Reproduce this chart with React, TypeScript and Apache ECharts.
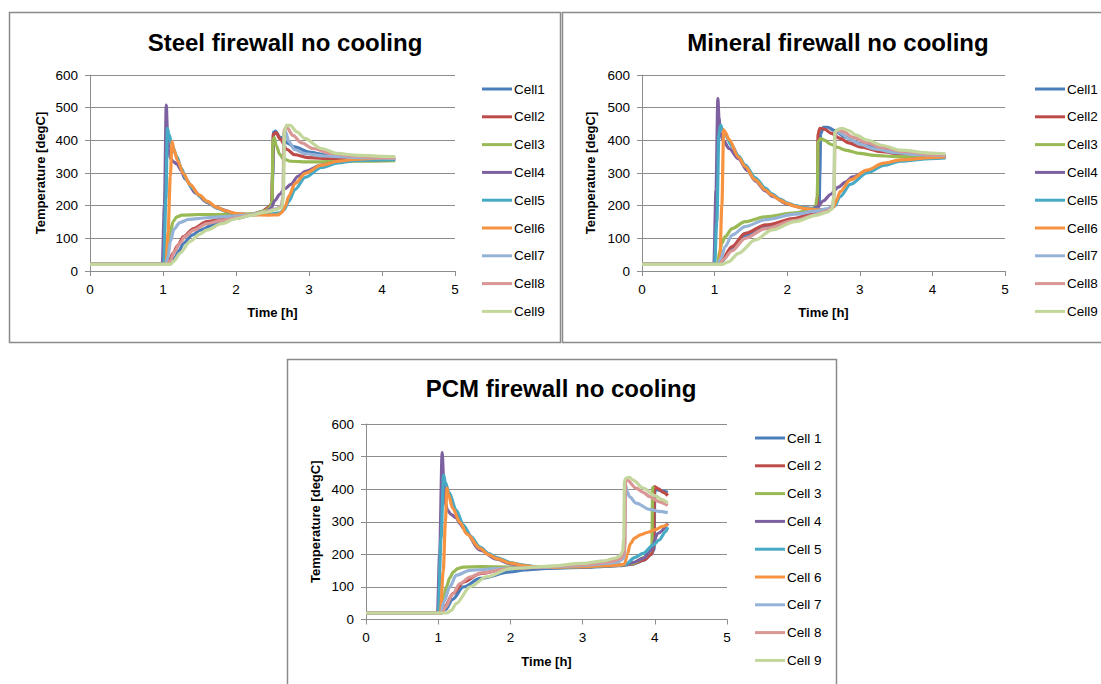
import React, { useEffect, useRef } from "react";
import * as echarts from "echarts";

const FONT = '"Liberation Sans", Arial, sans-serif';
const AXIS_COLOR = "#8c8c8c";

const titles = ["Steel firewall no cooling", "Mineral firewall no cooling", "PCM firewall no cooling"];
const cellNames = ["Cell1", "Cell2", "Cell3", "Cell4", "Cell5", "Cell6", "Cell7", "Cell8", "Cell9"];
const cellNamesSpaced = ["Cell 1", "Cell 2", "Cell 3", "Cell 4", "Cell 5", "Cell 6", "Cell 7", "Cell 8", "Cell 9"];
const colors = ["#4A7EBB", "#BE4B48", "#98B954", "#7D60A0", "#46AAC5", "#F69240", "#95B3D7", "#D99694", "#C3D69B"];
const timeTicks = [0, 1, 2, 3, 4, 5];
const tempTicks = [0, 100, 200, 300, 400, 500, 600];

// ---------- Steel firewall ----------
const steel1 = [[0,20],[1.03,20],[1.1,24],[1.16,40],[1.22,62],[1.28,85],[1.4,110],[1.51,125],[1.7,143],[2.0,161],[2.2,170],[2.35,180],[2.45,193],[2.49,205],[2.505,300],[2.515,425],[2.54,428],[2.6,410],[2.7,392],[2.8,380],[3.0,364],[3.3,352],[3.6,346],[4.0,342],[4.18,341]];
const steel2 = [[0,20],[1.03,20],[1.08,30],[1.14,55],[1.2,78],[1.28,105],[1.42,130],[1.6,151],[1.8,158],[2.0,165],[2.2,172],[2.35,182],[2.45,195],[2.49,207],[2.5,300],[2.51,418],[2.55,424],[2.6,405],[2.7,372],[2.8,356],[3.0,347],[3.4,342],[4.18,340]];
const steel3 = [[0,20],[1.02,20],[1.04,35],[1.07,80],[1.1,120],[1.14,152],[1.19,166],[1.26,171],[1.5,173],[2.0,173],[2.25,176],[2.4,185],[2.47,195],[2.495,215],[2.505,400],[2.525,408],[2.55,385],[2.6,357],[2.65,343],[2.75,336],[3.0,334],[3.5,336],[4.18,338]];
const steel4 = [[0,20],[0.99,20],[1.02,200],[1.045,508],[1.06,430],[1.08,372],[1.1,345],[1.14,335],[1.19,328],[1.25,308],[1.3,282],[1.45,238],[1.6,210],[1.75,192],[2.0,175],[2.2,172],[2.4,178],[2.48,192],[2.53,215],[2.6,235],[2.67,252],[2.75,265],[2.85,290],[2.95,305],[3.17,324],[3.4,334],[3.7,340],[4.18,342]];
const steel5 = [[0,20],[1.01,20],[1.04,220],[1.06,437],[1.08,420],[1.12,388],[1.19,350],[1.25,315],[1.32,280],[1.4,254],[1.51,228],[1.6,212],[1.74,193],[1.87,182],[2.0,175],[2.2,172],[2.45,174],[2.6,178],[2.66,188],[2.72,212],[2.81,250],[2.95,287],[3.17,317],[3.4,331],[3.63,338],[4.0,341],[4.18,341]];
const steel6 = [[0,20],[1.04,20],[1.07,120],[1.1,290],[1.125,396],[1.15,370],[1.2,338],[1.28,298],[1.37,265],[1.5,232],[1.6,214],[1.74,195],[1.87,183],[2.0,176],[2.2,172],[2.45,171],[2.58,172],[2.63,180],[2.68,200],[2.72,228],[2.81,268],[2.95,299],[3.17,324],[3.4,336],[3.63,342],[4.0,346],[4.18,347]];
const steel7 = [[0,20],[1.04,20],[1.07,45],[1.1,90],[1.15,128],[1.23,148],[1.35,158],[1.6,163],[2.0,168],[2.2,173],[2.4,182],[2.55,190],[2.62,198],[2.645,230],[2.655,420],[2.68,426],[2.72,398],[2.8,372],[2.95,359],[3.2,352],[3.6,348],[4.18,345]];
const steel8 = [[0,20],[1.05,20],[1.1,32],[1.16,60],[1.23,85],[1.3,105],[1.42,125],[1.6,145],[1.8,155],[2.0,162],[2.2,171],[2.4,181],[2.55,189],[2.625,198],[2.645,230],[2.66,432],[2.7,438],[2.78,415],[2.9,392],[3.05,375],[3.3,360],[3.6,352],[4.0,347],[4.18,346]];
const steel9 = [[0,20],[1.1,20],[1.15,30],[1.23,54],[1.37,90],[1.5,112],[1.6,125],[1.8,145],[2.0,160],[2.2,170],[2.4,180],[2.55,188],[2.63,195],[2.65,230],[2.665,430],[2.69,446],[2.74,446],[2.84,425],[2.94,406],[3.17,375],[3.39,360],[3.62,355],[4.0,351],[4.18,350]];

// ---------- Mineral firewall ----------
const mineral1 = [[0,20],[1.06,20],[1.1,30],[1.24,68],[1.42,108],[1.7,137],[2.11,158],[2.3,170],[2.4,182],[2.44,198],[2.45,300],[2.46,420],[2.5,440],[2.56,440],[2.65,430],[2.8,410],[3.0,390],[3.3,372],[3.6,360],[4.0,352],[4.18,350]];
const mineral2 = [[0,20],[1.06,20],[1.1,35],[1.24,75],[1.42,115],[1.7,141],[2.11,161],[2.3,172],[2.38,185],[2.415,200],[2.425,420],[2.45,437],[2.52,434],[2.6,422],[2.73,406],[2.85,392],[3.0,380],[3.3,365],[3.6,357],[4.0,352],[4.18,351]];
const mineral3 = [[0,20],[1.04,20],[1.07,60],[1.1,85],[1.145,105],[1.24,130],[1.42,151],[1.7,166],[2.11,178],[2.3,186],[2.39,196],[2.415,230],[2.425,395],[2.46,405],[2.52,400],[2.6,388],[2.7,378],[2.8,370],[3.0,360],[3.2,354],[3.5,350],[4.18,350]];
const mineral4 = [[0,20],[0.99,20],[1.02,250],[1.045,528],[1.06,470],[1.08,420],[1.12,400],[1.2,375],[1.33,343],[1.45,308],[1.56,276],[1.7,245],[1.8,228],[2.0,205],[2.2,194],[2.35,191],[2.42,197],[2.5,215],[2.6,235],[2.7,256],[2.8,272],[2.9,288],[3.1,307],[3.33,328],[3.56,339],[3.97,346],[4.18,348]];
const mineral5 = [[0,20],[1.0,20],[1.03,150],[1.06,420],[1.085,447],[1.1,437],[1.15,415],[1.24,382],[1.33,352],[1.42,325],[1.56,285],[1.7,254],[1.79,236],[1.9,220],[2.0,209],[2.11,200],[2.25,193],[2.45,188],[2.6,190],[2.65,198],[2.73,228],[2.87,265],[3.1,300],[3.33,323],[3.56,336],[3.97,344],[4.18,346]];
const mineral6 = [[0,20],[1.07,20],[1.1,200],[1.125,432],[1.145,425],[1.2,402],[1.33,348],[1.42,320],[1.56,279],[1.7,248],[1.79,232],[1.9,217],[2.0,206],[2.11,198],[2.25,191],[2.45,187],[2.6,188],[2.64,197],[2.68,218],[2.73,243],[2.87,279],[3.1,309],[3.33,330],[3.56,340],[3.97,347],[4.18,349]];
const mineral7 = [[0,20],[1.05,20],[1.09,40],[1.145,75],[1.24,110],[1.42,136],[1.7,157],[2.11,174],[2.4,183],[2.55,190],[2.625,198],[2.645,230],[2.655,420],[2.68,430],[2.75,420],[2.85,405],[3.0,388],[3.2,374],[3.5,362],[3.8,356],[4.18,353]];
const mineral8 = [[0,20],[1.07,20],[1.12,35],[1.24,62],[1.42,100],[1.7,130],[2.11,155],[2.4,173],[2.55,184],[2.63,195],[2.645,230],[2.66,425],[2.7,432],[2.78,426],[2.9,410],[3.1,392],[3.3,378],[3.6,366],[4.0,357],[4.18,355]];
const mineral9 = [[0,20],[1.1,20],[1.19,28],[1.33,54],[1.56,95],[1.79,126],[2.11,151],[2.4,170],[2.55,180],[2.62,190],[2.645,230],[2.655,425],[2.7,434],[2.75,437],[2.85,430],[2.95,416],[3.1,401],[3.3,385],[3.56,370],[3.97,361],[4.18,359]];

// ---------- PCM firewall ----------
const pcm1 = [[0,20],[1.05,20],[1.1,30],[1.2,62],[1.35,100],[1.58,126],[2.0,146],[2.2,152],[2.5,157],[3.0,160],[3.5,165],[3.7,170],[3.85,182],[3.95,200],[3.99,215],[4.0,400],[4.1,395],[4.18,390]];
const pcm2 = [[0,20],[1.04,20],[1.09,40],[1.21,80],[1.35,115],[1.58,141],[2.0,159],[2.5,160],[3.0,161],[3.5,166],[3.7,171],[3.85,183],[3.95,200],[3.985,220],[3.995,408],[4.05,401],[4.12,390],[4.18,380]];
const pcm3 = [[0,20],[1.02,20],[1.05,40],[1.08,75],[1.115,100],[1.16,128],[1.21,146],[1.27,156],[1.35,161],[1.6,162],[2.0,161],[2.5,160],[3.0,162],[3.5,166],[3.7,172],[3.85,190],[3.92,205],[3.96,225],[3.97,405],[3.99,402]];
const pcm4 = [[0,20],[0.99,20],[1.02,200],[1.055,512],[1.075,430],[1.1,355],[1.13,335],[1.18,322],[1.25,312],[1.3,295],[1.35,280],[1.58,213],[1.81,185],[2.0,171],[2.4,160],[3.0,162],[3.5,166],[3.6,169],[3.7,175],[3.84,188],[3.95,213],[4.04,264],[4.18,295]];
const pcm5 = [[0,20],[1.0,20],[1.04,250],[1.075,443],[1.1,420],[1.15,390],[1.25,335],[1.35,290],[1.45,255],[1.58,222],[1.7,202],[1.81,190],[2.0,175],[2.2,166],[2.4,161],[2.8,161],[3.2,163],[3.5,167],[3.6,170],[3.72,190],[3.84,203],[3.98,229],[4.06,244],[4.15,270],[4.18,283]];
const pcm6 = [[0,20],[1.03,20],[1.07,150],[1.1,300],[1.12,403],[1.14,385],[1.2,342],[1.3,298],[1.4,262],[1.58,218],[1.7,199],[1.81,187],[2.0,173],[2.2,165],[2.4,160],[3.0,162],[3.5,167],[3.58,170],[3.62,200],[3.66,232],[3.72,250],[3.8,260],[3.9,267],[4.0,275],[4.1,285],[4.18,292]];
const pcm7 = [[0,20],[1.04,20],[1.08,55],[1.16,100],[1.25,136],[1.44,151],[1.81,156],[2.0,158],[2.5,161],[3.0,166],[3.4,174],[3.5,178],[3.56,186],[3.58,200],[3.595,413],[3.62,392],[3.65,377],[3.74,357],[3.93,338],[4.05,332],[4.18,328]];
const pcm8 = [[0,20],[1.06,20],[1.1,38],[1.2,78],[1.3,110],[1.44,130],[1.6,143],[2.0,157],[2.5,162],[3.0,168],[3.4,178],[3.52,186],[3.57,198],[3.585,230],[3.595,425],[3.62,428],[3.74,403],[3.84,390],[3.93,377],[4.05,362],[4.18,350]];
const pcm9 = [[0,20],[1.12,20],[1.18,28],[1.25,49],[1.44,100],[1.67,131],[2.0,156],[2.5,163],[3.0,172],[3.3,180],[3.45,188],[3.52,196],[3.555,210],[3.57,250],[3.58,425],[3.6,434],[3.65,436],[3.7,428],[3.84,403],[4.0,380],[4.1,368],[4.18,357]];

const panelData = [
  [steel1, steel2, steel3, steel4, steel5, steel6, steel7, steel8, steel9],
  [mineral1, mineral2, mineral3, mineral4, mineral5, mineral6, mineral7, mineral8, mineral9],
  [pcm1, pcm2, pcm3, pcm4, pcm5, pcm6, pcm7, pcm8, pcm9],
];
const panelNames = [cellNames, cellNames, cellNamesSpaced];

// layout (pixels)
const layout = [
  { grid: { left: 90, top: 75, width: 365, height: 196 }, titleX: 285, titleY: 42, legendLeft: 482, legendTop: 82, yGap: 43, xGap: 35, box: { x: 9.5, y: 12.5, width: 551, height: 330 } },
  { grid: { left: 642, top: 75, width: 363, height: 196 }, titleX: 838, titleY: 42, legendLeft: 1035, legendTop: 82, yGap: 45, xGap: 35, box: { x: 562.5, y: 12.5, width: 560, height: 330 } },
  { grid: { left: 366, top: 424, width: 361, height: 195.5 }, titleX: 561, titleY: 388, legendLeft: 755, legendTop: 431, yGap: 44, xGap: 35, box: { x: 287.5, y: 359.5, width: 549, height: 340 } },
];

export default function App() {
  const ref = useRef<HTMLDivElement>(null);
  useEffect(() => {
    if (!ref.current) return;
    const chart = echarts.init(ref.current, undefined, { renderer: "svg" });
    const grids: any[] = [];
    const xAxes: any[] = [];
    const yAxes: any[] = [];
    const legends: any[] = [];
    const series: any[] = [];
    const graphics: any[] = [];

    layout.forEach((L, p) => {
      grids.push({ ...L.grid, containLabel: false });
      xAxes.push({
        gridIndex: p, type: "value", min: timeTicks[0], max: timeTicks[timeTicks.length - 1], interval: 1,
        axisLine: { show: true, onZero: false, lineStyle: { color: AXIS_COLOR, width: 1 } },
        axisTick: { show: true, length: 5, lineStyle: { color: AXIS_COLOR } },
        splitLine: { show: false },
        axisLabel: { margin: 11, fontSize: 13.5, color: "#000", fontFamily: FONT },
        name: "Time [h]", nameLocation: "middle", nameGap: L.xGap,
        nameTextStyle: { fontWeight: "bold", fontSize: 13, color: "#000", fontFamily: FONT },
      });
      yAxes.push({
        gridIndex: p, type: "value", min: tempTicks[0], max: tempTicks[tempTicks.length - 1], interval: 100,
        axisLine: { show: true, lineStyle: { color: AXIS_COLOR, width: 1 } },
        axisTick: { show: true, length: 5, lineStyle: { color: AXIS_COLOR } },
        splitLine: { show: true, lineStyle: { color: AXIS_COLOR, width: 1 } },
        axisLabel: { margin: 12, fontSize: 13.5, color: "#000", fontFamily: FONT },
        name: "Temperature [degC]", nameLocation: "middle", nameGap: L.yGap,
        nameTextStyle: { fontWeight: "bold", fontSize: 13, color: "#000", fontFamily: FONT },
      });
      legends.push({
        data: panelNames[p], orient: "vertical", left: L.legendLeft, top: L.legendTop, padding: 0,
        itemWidth: 30, itemHeight: 3, icon: "rect", itemGap: 13.8, selectedMode: false,
        textStyle: { fontSize: 13.5, lineHeight: 14, color: "#000", fontFamily: FONT, padding: [0, 0, 0, -3] },
      });
      panelData[p].forEach((d, i) => {
        series.push({
          type: "line", name: panelNames[p][i], xAxisIndex: p, yAxisIndex: p, data: d,
          showSymbol: false, smooth: 0.3, smoothMonotone: "x",
          lineStyle: { width: 3.2, color: colors[i] }, itemStyle: { color: colors[i] },
        });
      });
      graphics.push({
        type: "rect", shape: L.box, silent: true,
        style: { fill: "none", stroke: "#8a8a8a", lineWidth: 1.5 },
      });
      graphics.push({
        type: "text", x: L.titleX, y: L.titleY, silent: true,
        style: { text: titles[p], align: "center", verticalAlign: "middle", font: `bold 24px ${FONT}`, fill: "#000" },
      });
    });

    chart.setOption({
      animation: false,
      backgroundColor: "#fff",
      grid: grids, xAxis: xAxes, yAxis: yAxes, legend: legends, series, graphic: graphics,
    });
    return () => chart.dispose();
  }, []);
  return <div ref={ref} style={{ position: "absolute", left: 0, top: 0, width: 1101, height: 684 }} />;
}
